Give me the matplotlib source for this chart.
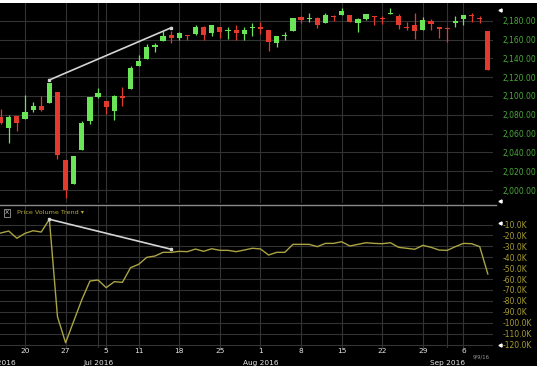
import numpy as np
import pandas as pd
import matplotlib
matplotlib.use("Agg")
import matplotlib.pyplot as plt
import matplotlib.transforms as mtransforms
from matplotlib.patches import Rectangle
from matplotlib.lines import Line2D

# S&P 500 daily candles, 15 Jun - 9 Sep 2016 (trading days only)
dates = pd.bdate_range("2016-06-15", "2016-09-09")
dates = dates[~dates.isin(pd.to_datetime(["2016-07-04", "2016-09-05"]))]

prev_close = 2075.32  # close of 14 Jun, used for colouring the first candle

opens = [2077.60, 2066.36, 2078.20, 2075.58, 2085.19, 2089.75, 2092.80, 2103.81,
         2031.45, 2006.67, 2042.69, 2073.17, 2099.34, 2095.05, 2084.43, 2100.42,
         2106.97, 2131.72, 2139.50, 2153.81, 2157.88, 2165.13, 2162.04, 2163.79,
         2166.10, 2172.91, 2166.47, 2173.71, 2168.97, 2169.81, 2166.05, 2172.02,
         2173.15, 2169.94, 2156.81, 2163.51, 2168.79, 2183.76, 2182.24, 2182.81,
         2177.97, 2183.74, 2186.08, 2186.24, 2177.84, 2181.90, 2184.24, 2181.58,
         2187.81, 2185.09, 2173.29, 2175.10, 2170.19, 2179.45, 2173.56, 2171.33,
         2177.49, 2181.61, 2185.17, 2182.76, 2169.08]
highs = [2085.65, 2079.62, 2078.20, 2100.66, 2093.66, 2099.71, 2113.32, 2103.81,
         2031.45, 2036.09, 2073.13, 2098.94, 2108.71, 2095.05, 2100.72, 2109.08,
         2131.71, 2143.16, 2155.40, 2156.45, 2169.05, 2169.05, 2168.35, 2164.63,
         2175.63, 2174.56, 2175.11, 2173.71, 2173.54, 2174.98, 2172.85, 2177.09,
         2178.29, 2170.20, 2163.79, 2168.19, 2182.87, 2185.44, 2187.66, 2183.41,
         2188.45, 2186.28, 2193.81, 2186.24, 2183.08, 2187.03, 2185.00, 2185.15,
         2193.42, 2186.66, 2179.00, 2187.94, 2183.48, 2182.27, 2173.79, 2173.56,
         2184.87, 2186.57, 2187.87, 2184.94, 2169.08]
lows = [2069.80, 2050.37, 2062.84, 2075.58, 2083.02, 2084.36, 2092.80, 2032.57,
        1991.68, 2006.67, 2042.69, 2070.00, 2097.90, 2080.86, 2074.02, 2089.39,
        2106.97, 2131.72, 2139.50, 2146.21, 2157.88, 2155.79, 2159.07, 2159.01,
        2164.89, 2159.75, 2163.24, 2161.20, 2160.18, 2159.07, 2159.74, 2163.49,
        2166.21, 2147.58, 2152.14, 2159.07, 2168.79, 2177.85, 2178.61, 2172.00,
        2177.97, 2179.42, 2186.08, 2178.14, 2168.50, 2180.46, 2175.13, 2175.96,
        2186.80, 2171.25, 2169.74, 2160.39, 2170.19, 2170.41, 2161.35, 2157.09,
        2173.59, 2175.10, 2179.07, 2177.49, 2127.81]
closes = [2071.50, 2077.99, 2071.22, 2083.25, 2088.90, 2085.45, 2113.32, 2037.41,
          2000.54, 2036.09, 2070.77, 2098.86, 2102.95, 2088.55, 2099.73, 2097.90,
          2129.90, 2137.16, 2152.14, 2152.43, 2163.75, 2161.74, 2166.89, 2163.78,
          2173.02, 2165.17, 2175.03, 2168.48, 2169.18, 2166.58, 2170.06, 2173.60,
          2170.84, 2157.03, 2163.79, 2164.25, 2182.87, 2180.89, 2181.74, 2175.49,
          2185.79, 2184.05, 2190.15, 2178.15, 2182.22, 2187.02, 2183.87, 2182.64,
          2186.90, 2175.44, 2172.47, 2169.04, 2180.38, 2176.12, 2170.95, 2170.86,
          2179.98, 2186.48, 2186.16, 2181.30, 2127.81]

# Price Volume Trend, thousands
pvt = [-17.8, -16.0, -22.6, -18.1, -15.7, -16.9, -5.2, -94.5,
       -118.4, -98.6, -78.9, -61.8, -60.9, -67.9, -62.4, -63.0,
       -49.6, -46.5, -40.1, -38.9, -35.5, -35.5, -34.6, -34.9,
       -32.5, -34.6, -32.2, -33.7, -33.7, -34.9, -33.4, -31.8,
       -32.4, -38.0, -35.5, -35.5, -28.2, -28.2, -28.2, -30.3,
       -27.3, -27.3, -25.8, -29.7, -28.2, -26.7, -27.3, -27.6,
       -26.7, -30.9, -31.8, -32.7, -29.1, -30.9, -33.4, -33.7,
       -30.3, -27.3, -27.6, -30.3, -55.4]

# hand-drawn trend lines (day index, value)
price_trend_x = [6, 21]
price_trend_y = [2117.0, 2172.5]
pvt_trend_x = [6, 21]
pvt_trend_y = [-5.2, -32.7]

price_ticks = list(range(2000, 2181, 20))
pvt_ticks = list(range(-120, -9, 10))

GREEN = "#6be558"
RED = "#e23a2c"
GRID = "#333333"

W, H = 542, 370
fig = plt.figure(figsize=(W / 100, H / 100), dpi=100)
fig.patch.set_facecolor("white")
fig.add_artist(Rectangle((0, 1 - 366 / H), 537 / W, 363 / H, transform=fig.transFigure,
                         facecolor="black", edgecolor="none", zorder=-10))


def fy(px):
    return 1 - px / H


ax1 = fig.add_axes([0, fy(203), 493 / W, (203 - 3) / H])
ax2 = fig.add_axes([0, fy(348), 493 / W, (348 - 206) / H], sharex=ax1)

x = np.arange(len(closes))
o, h, l, c = map(np.array, (opens, highs, lows, closes))
prev = np.r_[prev_close, c[:-1]]
cols = np.where(c >= prev, GREEN, RED)

bottom = np.minimum(o, c)
height = np.maximum(np.abs(c - o), 1.3)
ax1.vlines(x, l, h, colors=cols, lw=0.9, zorder=2)
ax1.bar(x, height, width=0.64, bottom=bottom, color=cols, zorder=3)
ax1.plot(price_trend_x, price_trend_y, color="#d4d4d4", lw=1.2, marker="s", ms=1.8, zorder=4)

ax2.plot(x, pvt, color="#aaa444", lw=1.0, zorder=3)
ax2.plot(pvt_trend_x, pvt_trend_y, color="#d4d4d4", lw=1.2, marker="s", ms=1.8, zorder=4)

x_left = 3 + (0 - 25) / 8.12
x_right = 3 + (493 - 25) / 8.12
ax1.set_xlim(x_left, x_right)
ax1.set_ylim(1986.2, 2198.8)
ax2.set_ylim(-123.2, 6.96)

# week starts and month starts
week_idx = [i for i in range(1, len(dates)) if dates[i].weekday() < dates[i - 1].weekday()]
month_idx = [i for i in range(1, len(dates)) if dates[i].month != dates[i - 1].month]

for ax in (ax1, ax2):
    ax.set_facecolor("none")
    for s in ax.spines.values():
        s.set_visible(False)
    ax.set_xticks(week_idx)
    ax.set_xticks(month_idx, minor=True)
    ax.grid(which="both", axis="x", color=GRID, lw=0.8)
    ax.grid(which="major", axis="y", color=GRID, lw=0.8)
    ax.set_axisbelow(True)
    ax.yaxis.tick_right()
    ax.tick_params(axis="both", which="both", length=0)

ax1.tick_params(axis="x", labelbottom=False)
ax1.set_yticks(price_ticks)
ax1.set_yticklabels([f"{v:,.2f}" for v in price_ticks])
ax1.tick_params(axis="y", pad=7, labelsize=5.5, labelcolor="#4aa83a")

ax2.set_yticks(pvt_ticks)
ax2.set_yticklabels([f"{v:.1f}K" for v in pvt_ticks])
ax2.tick_params(axis="y", pad=7, labelsize=5.5, labelcolor="#a89e30")
ax2.set_xticklabels([str(dates[i].day) for i in week_idx])
ax2.tick_params(axis="x", pad=0.3, labelsize=5.3, labelcolor="#e6e6e6")

# month labels under the week numbers
tr = mtransforms.blended_transform_factory(ax2.transData, fig.transFigure)
ax2.text(x_left, fy(363), dates[0].strftime("%b %Y"), transform=tr, ha="center",
         va="center", fontsize=5.3, color="#e6e6e6")
for i in month_idx:
    ax2.text(i, fy(363), dates[i].strftime("%b %Y"), transform=tr, ha="center",
             va="center", fontsize=5.3, color="#e6e6e6")
fig.text(481 / W, fy(357), dates[-1].strftime("%-m/%-d/%y"), ha="center", va="center",
         fontsize=3.8, color="#9a9a9a")

# panel separator, scroll markers and indicator label
fig.add_artist(Line2D([0, 496 / W], [fy(204.5)] * 2, color="#8a8a8a", lw=1,
                      transform=fig.transFigure))
fig.add_artist(Line2D([500 / W] * 4, [fy(10), fy(201), fy(223), fy(345)], ls="none",
                      marker="<", ms=2.2, color="white", transform=fig.transFigure))
fig.text(7 / W, fy(213), "X", ha="center", va="center", fontsize=4.4, color="#cfcfcf",
         bbox=dict(boxstyle="square,pad=0.2", fc="black", ec="#9a9a9a", lw=0.6))
fig.text(17 / W, fy(213), "Price Volume Trend \u25be", ha="left", va="center",
         fontsize=4.6, color="#b4a83a")

fig.savefig("out.png", dpi=100, facecolor=fig.get_facecolor())
